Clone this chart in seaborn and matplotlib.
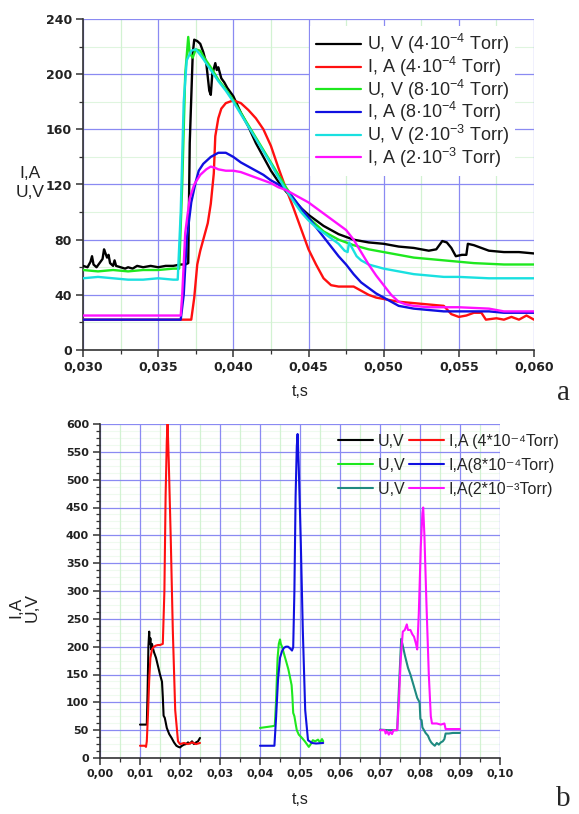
import matplotlib
matplotlib.use("Agg")
import matplotlib.pyplot as plt
import seaborn as sns
from matplotlib.ticker import MultipleLocator, FuncFormatter
from matplotlib.lines import Line2D

# ---------------- Panel a data (t in s) ----------------
a_u4_t = [0.0300, 0.0303, 0.0305, 0.0306, 0.0307, 0.0309, 0.0311, 0.0313, 0.0314, 0.0315, 0.0316, 0.0317,
          0.0318, 0.0320, 0.0321, 0.0322, 0.0325, 0.0328, 0.0330, 0.0333, 0.0336, 0.0340, 0.0345, 0.0350,
          0.0355, 0.0360, 0.0365, 0.0368, 0.0370, 0.0371, 0.0373, 0.0374, 0.0376, 0.0378, 0.0380, 0.0382,
          0.0384, 0.0385, 0.0386, 0.0388, 0.0389, 0.0390, 0.0392, 0.0394, 0.0396, 0.0400, 0.0405, 0.0410,
          0.0415, 0.0420, 0.0425, 0.0430, 0.0435, 0.0440, 0.0445, 0.0450, 0.0455, 0.0460, 0.0465, 0.0470,
          0.0475, 0.0480, 0.0490, 0.0500, 0.0510, 0.0520, 0.0530, 0.0535, 0.0539, 0.0542, 0.0545, 0.0548,
          0.0552, 0.0555, 0.0556, 0.0560, 0.0565, 0.0570, 0.0580, 0.0590, 0.0600]
a_u4_v = [61, 60, 64, 68, 62, 60, 63, 66, 73, 70, 67, 69,
          63, 61, 65, 61, 60, 59, 60, 59, 61, 60, 61, 60,
          61, 61, 62, 62, 63, 150, 215, 225, 224, 222, 216, 208,
          188, 185, 200, 208, 203, 205, 197, 194, 190, 184, 172, 162,
          150, 140, 130, 122, 115, 109, 103, 98, 94, 90, 87, 84,
          82, 80, 78, 77, 75, 74, 72, 73, 79, 78, 74, 68,
          69, 69, 77, 76, 74, 72, 71, 71, 70]

a_i4_t = [0.0300, 0.0350, 0.0368, 0.0372, 0.0374, 0.0376, 0.0378, 0.0380, 0.0383, 0.0385, 0.0387, 0.0388,
          0.0390, 0.0392, 0.0395, 0.0400, 0.0405, 0.0410, 0.0415, 0.0420, 0.0425, 0.0430, 0.0435, 0.0440,
          0.0445, 0.0450, 0.0455, 0.0460, 0.0465, 0.0470, 0.0475, 0.0480, 0.0485, 0.0490, 0.0495, 0.0500,
          0.0505, 0.0510, 0.0520, 0.0530, 0.0540, 0.0545, 0.0550, 0.0555, 0.0560, 0.0565, 0.0568, 0.0575,
          0.0580, 0.0585, 0.0590, 0.0595, 0.0600]
a_i4_v = [22, 22, 22, 22, 38, 62, 72, 80, 92, 106, 128, 155,
          168, 175, 179, 181, 179, 174, 168, 160, 148, 132, 117, 103,
          88, 73, 62, 52, 47, 46, 46, 46, 43, 40, 38, 37,
          36, 35, 34, 33, 32, 26, 24, 25, 27, 27, 22, 23,
          22, 24, 22, 25, 22]

a_u8_t = [0.0300, 0.0310, 0.0320, 0.0330, 0.0340, 0.0350, 0.0360, 0.0364, 0.0366, 0.0368, 0.0370, 0.0371,
          0.0373, 0.0375, 0.0378, 0.0380, 0.0385, 0.0390, 0.0395, 0.0400, 0.0405, 0.0410, 0.0415, 0.0420,
          0.0425, 0.0430, 0.0435, 0.0440, 0.0445, 0.0450, 0.0455, 0.0460, 0.0465, 0.0470, 0.0475, 0.0480,
          0.0490, 0.0500, 0.0510, 0.0520, 0.0530, 0.0540, 0.0550, 0.0560, 0.0580, 0.0600]
a_u8_v = [58, 57, 58, 57, 58, 58, 59, 59, 120, 200, 227, 215,
          212, 218, 217, 213, 205, 196, 189, 181, 172, 163, 154, 145,
          136, 127, 118, 110, 102, 96, 91, 86, 83, 80, 78, 76,
          73, 71, 69, 67, 66, 65, 64, 63, 62, 62]

a_i8_t = [0.0300, 0.0365, 0.0367, 0.0369, 0.0372, 0.0375, 0.0377, 0.0380, 0.0385, 0.0390, 0.0395, 0.0400,
          0.0405, 0.0410, 0.0415, 0.0420, 0.0425, 0.0430, 0.0435, 0.0440, 0.0445, 0.0450, 0.0455, 0.0460,
          0.0465, 0.0470, 0.0475, 0.0480, 0.0485, 0.0490, 0.0495, 0.0500, 0.0505, 0.0510, 0.0515, 0.0520,
          0.0530, 0.0540, 0.0550, 0.0560, 0.0570, 0.0580, 0.0590, 0.0600]
a_i8_v = [22, 22, 40, 80, 107, 122, 130, 135, 140, 143, 143, 140,
          136, 133, 130, 127, 123, 120, 116, 110, 103, 96, 89, 82,
          75, 68, 62, 55, 49, 45, 41, 38, 35, 32, 31, 30,
          29, 28, 28, 28, 28, 27, 27, 27]

a_u2_t = [0.0300, 0.0310, 0.0320, 0.0330, 0.0340, 0.0350, 0.0360, 0.0363, 0.0365, 0.0367, 0.0369, 0.0372,
          0.0375, 0.0378, 0.0380, 0.0385, 0.0390, 0.0395, 0.0400, 0.0405, 0.0410, 0.0415, 0.0420, 0.0425,
          0.0430, 0.0435, 0.0440, 0.0445, 0.0450, 0.0455, 0.0460, 0.0465, 0.0470, 0.0474, 0.0476, 0.0477,
          0.0479, 0.0482, 0.0485, 0.0490, 0.0500, 0.0510, 0.0520, 0.0530, 0.0540, 0.0550, 0.0570, 0.0600]
a_u2_v = [52, 53, 52, 51, 51, 52, 51, 51, 100, 180, 210, 217,
          218, 214, 211, 203, 195, 188, 180, 171, 162, 153, 144, 135,
          125, 116, 108, 100, 94, 89, 85, 81, 77, 72, 71, 78,
          74, 68, 65, 62, 59, 57, 55, 54, 53, 53, 52, 52]

a_i2_t = [0.0300, 0.0365, 0.0366, 0.0368, 0.0371, 0.0374, 0.0378, 0.0382, 0.0385, 0.0388, 0.0390, 0.0395,
          0.0400, 0.0405, 0.0410, 0.0415, 0.0420, 0.0425, 0.0430, 0.0435, 0.0440, 0.0445, 0.0450, 0.0455,
          0.0460, 0.0465, 0.0470, 0.0475, 0.0480, 0.0485, 0.0490, 0.0495, 0.0500, 0.0505, 0.0510, 0.0515,
          0.0520, 0.0530, 0.0550, 0.0570, 0.0580, 0.0600]
a_i2_v = [25, 25, 40, 85, 110, 120, 127, 131, 133, 132, 131, 130,
          130, 129, 127, 125, 123, 121, 118, 116, 113, 110, 107, 103,
          99, 95, 91, 87, 80, 71, 62, 54, 47, 40, 35, 33,
          32, 31, 31, 30, 28, 28]

a_labels = ["U, V (4·$10^{-4}$ Torr)", "I, A (4·$10^{-4}$ Torr)", "U, V (8·$10^{-4}$ Torr)",
            "I, A (8·$10^{-4}$ Torr)", "U, V (2·$10^{-3}$ Torr)", "I, A (2·$10^{-3}$ Torr)"]

# ---------------- Panel b data ----------------
b_u4_t = [0.0100, 0.0117, 0.0119, 0.0121, 0.0123, 0.0124, 0.0126, 0.0128, 0.0130, 0.0132, 0.0135, 0.0140,
          0.0145, 0.0150, 0.0155, 0.0157, 0.0159, 0.0162, 0.0167, 0.0173, 0.0179, 0.0185, 0.0191, 0.0196,
          0.0200, 0.0205, 0.0210, 0.0215, 0.0220, 0.0225, 0.0230, 0.0235, 0.0240, 0.0245, 0.0250]
b_u4_v = [60, 60, 120, 200, 227, 205, 215, 195, 205, 198, 190, 180,
          165, 150, 137, 110, 76, 72, 54, 43, 36, 28, 22, 20,
          19, 22, 24, 25, 28, 26, 30, 25, 28, 30, 36]

b_i4_t = [0.0100, 0.0112, 0.0115, 0.0117, 0.0120, 0.0123, 0.0126, 0.0130, 0.0135, 0.0140, 0.0145, 0.0150,
          0.0157, 0.0161, 0.0164, 0.0167, 0.0169, 0.0172, 0.0177, 0.0182, 0.0188, 0.0195, 0.0200, 0.0210,
          0.0220, 0.0230, 0.0240, 0.0250]
b_i4_v = [22, 22, 20, 30, 80, 140, 180, 195, 200, 202, 203, 203,
          205, 300, 470, 570, 600, 530, 390, 230, 86, 30, 25, 27,
          25, 28, 25, 27]

b_u8_t = [0.0400, 0.0410, 0.0420, 0.0430, 0.0437, 0.0440, 0.0444, 0.0447, 0.0450, 0.0452, 0.0455, 0.0458,
          0.0462, 0.0466, 0.0471, 0.0475, 0.0479, 0.0481, 0.0483, 0.0486, 0.0489, 0.0492, 0.0497, 0.0505,
          0.0512, 0.0518, 0.0522, 0.0527, 0.0532, 0.0538, 0.0545, 0.0550, 0.0555, 0.0558]
b_u8_v = [54, 55, 56, 57, 58, 100, 180, 205, 213, 205, 200, 192,
          182, 172, 159, 145, 131, 110, 81, 75, 62, 50, 42, 36,
          30, 24, 20, 25, 32, 30, 33, 28, 34, 30]

b_i8_t = [0.0400, 0.0436, 0.0440, 0.0445, 0.0450, 0.0455, 0.0460, 0.0465, 0.0470, 0.0475, 0.0480, 0.0483,
          0.0486, 0.0489, 0.0492, 0.0494, 0.0497, 0.0502, 0.0507, 0.0513, 0.0520, 0.0530, 0.0540, 0.0558]
b_i8_v = [22, 22, 70, 140, 180, 192, 198, 200, 200, 197, 193, 199,
          300, 470, 560, 582, 520, 387, 230, 86, 32, 27, 26, 27]

b_u2_t = [0.0700, 0.0720, 0.0743, 0.0747, 0.0753, 0.0756, 0.0762, 0.0770, 0.0776, 0.0785, 0.0793, 0.0799,
          0.0801, 0.0804, 0.0806, 0.0810, 0.0814, 0.0820, 0.0824, 0.0828, 0.0832, 0.0837, 0.0842, 0.0847,
          0.0852, 0.0857, 0.0861, 0.0864, 0.0872, 0.0882, 0.0900]
b_u2_v = [51, 50, 50, 120, 214, 205, 185, 162, 150, 128, 108, 100,
          70, 68, 55, 50, 45, 40, 33, 28, 25, 22, 27, 24,
          28, 30, 34, 44, 44, 45, 45]

b_i2_t = [0.0700, 0.0712, 0.0714, 0.0718, 0.0722, 0.0726, 0.0730, 0.0734, 0.0743, 0.0747, 0.0752, 0.0757,
          0.0762, 0.0767, 0.0770, 0.0776, 0.0781, 0.0785, 0.0790, 0.0793, 0.0797, 0.0802, 0.0806, 0.0808,
          0.0811, 0.0816, 0.0822, 0.0827, 0.0830, 0.0842, 0.0852, 0.0861, 0.0864, 0.0882, 0.0900]
b_i2_v = [50, 50, 44, 48, 42, 47, 43, 50, 50, 100, 180, 227,
          230, 240, 230, 230, 222, 218, 205, 195, 260, 380, 440, 450,
          400, 280, 150, 75, 62, 62, 60, 62, 52, 52, 52]

b_labels_u = ["U,V", "U,V ", "U,V "]
b_labels_i = ["I,A (4*10\u207b\u2074Torr)", "I,A(8*10\u207b\u2074Torr)", "I,A(2*10\u207b\u00b3Torr)"]

# ---------------- Style ----------------
sns.set_style("ticks")
plt.rcParams['font.family'] = ['Liberation Sans', 'DejaVu Sans']
plt.rcParams['mathtext.fontset'] = 'custom'
plt.rcParams['mathtext.rm'] = 'Liberation Sans'
plt.rcParams['mathtext.it'] = 'Liberation Sans:italic'
plt.rcParams['mathtext.bf'] = 'Liberation Sans:bold'

W, H = 579, 814
fig = plt.figure(figsize=(W / 100, H / 100), dpi=100)


def fx(px):
    return px / W


def fy(py):
    return 1 - py / H


ax_a = fig.add_axes([fx(83), fy(350), (534 - 83) / W, (350 - 19) / H])
ax_b = fig.add_axes([fx(100), fy(758), (500 - 100) / W, (758 - 424) / H])

C_BLACK = "#000000"
C_RED = "#ff1010"
C_GREEN = "#1ee81e"
C_BLUE = "#1010e0"
C_CYAN = "#19e0e0"
C_MAG = "#ff10ff"
C_TEAL = "#1f8a80"

major_grid = "#8a8af2"
minor_grid = "#d2f2d2"


def style_axes(ax, xmaj, xmin, ymaj, ymin, xdec, tick_fs, hminor_alpha):
    ax.xaxis.set_major_locator(MultipleLocator(xmaj))
    ax.xaxis.set_minor_locator(MultipleLocator(xmin))
    ax.yaxis.set_major_locator(MultipleLocator(ymaj))
    ax.yaxis.set_minor_locator(MultipleLocator(ymin))
    ax.xaxis.set_major_formatter(FuncFormatter(lambda v, p: f"{v:.{xdec}f}".replace(".", ",")))
    ax.yaxis.set_major_formatter(FuncFormatter(lambda v, p: f"{v:.0f}"))
    ax.grid(which="major", color=major_grid, lw=0.9)
    ax.set_axisbelow(True)
    # minor grid drawn beneath the major grid
    xlo, xhi = ax.get_xlim()
    ylo, yhi = ax.get_ylim()
    xmins = [v for v in ax.xaxis.get_minorticklocs() if xlo < v < xhi]
    ymins = [v for v in ax.yaxis.get_minorticklocs() if ylo < v < yhi]
    ax.vlines(xmins, 0, 1, transform=ax.get_xaxis_transform(), colors=minor_grid, lw=0.9, zorder=0.2)
    ax.hlines(ymins, 0, 1, transform=ax.get_yaxis_transform(), colors=minor_grid, lw=0.8,
              alpha=hminor_alpha, zorder=0.2)
    for s in ["top", "right"]:
        ax.spines[s].set_visible(False)
    for s in ["left", "bottom"]:
        ax.spines[s].set_color("#333333")
        ax.spines[s].set_linewidth(1.2)
    ax.tick_params(which="major", direction="out", length=5, width=1.1, color="#333333",
                   labelsize=tick_fs, labelcolor="#222222", pad=3)
    ax.tick_params(which="minor", direction="out", length=3, width=0.9, color="#333333")
    for lab in ax.get_xticklabels() + ax.get_yticklabels():
        lab.set_family("DejaVu Sans")
        lab.set_fontweight("bold")
    ax.set_xlabel("")
    ax.set_ylabel("")


# ---------- panel a ----------
a_series = [(a_u4_t, a_u4_v, C_BLACK), (a_i4_t, a_i4_v, C_RED), (a_u8_t, a_u8_v, C_GREEN),
            (a_i8_t, a_i8_v, C_BLUE), (a_u2_t, a_u2_v, C_CYAN), (a_i2_t, a_i2_v, C_MAG)]
for t, v, c in a_series:
    sns.lineplot(x=t, y=v, ax=ax_a, color=c, linewidth=1.7, sort=False, estimator=None, zorder=3)
ax_a.set_xlim(0.030, 0.060)
ax_a.set_ylim(0, 240)
style_axes(ax_a, 0.005, 0.0025, 40, 20, 3, 9, 0.7)
fig.canvas.draw()
ax_a.get_ygridlines()[-1].set_visible(False)
ax_a.get_xgridlines()[-1].set_visible(False)

handles_a = [Line2D([], [], color=c, lw=1.6) for _, _, c in a_series]
leg_a = ax_a.legend(handles_a, a_labels, loc="upper left",
                    bbox_to_anchor=(fx(310), fy(26)), bbox_transform=fig.transFigure,
                    frameon=True, facecolor="white", edgecolor="none", framealpha=1, fancybox=False,
                    fontsize=13, handlelength=2.5, handletextpad=0.3, labelspacing=-0.08,
                    borderpad=0.35, borderaxespad=0)
leg_a.set_zorder(5)

# ---------- panel b ----------
b_series_u = [(b_u4_t, b_u4_v, C_BLACK), (b_u8_t, b_u8_v, C_GREEN), (b_u2_t, b_u2_v, C_TEAL)]
b_series_i = [(b_i4_t, b_i4_v, C_RED), (b_i8_t, b_i8_v, C_BLUE), (b_i2_t, b_i2_v, C_MAG)]
for (tu, vu, cu), (ti, vi, ci) in zip(b_series_u, b_series_i):
    sns.lineplot(x=tu, y=vu, ax=ax_b, color=cu, linewidth=1.5, sort=False, estimator=None, zorder=3)
    sns.lineplot(x=ti, y=vi, ax=ax_b, color=ci, linewidth=1.5, sort=False, estimator=None, zorder=3)
ax_b.set_xlim(0.0, 0.10)
ax_b.set_ylim(0, 600)
style_axes(ax_b, 0.01, 0.005, 50, 12.5, 2, 8, 0.35)
fig.canvas.draw()
ax_b.get_ygridlines()[-1].set_visible(False)
ax_b.get_xgridlines()[-1].set_visible(False)

handles_b = [Line2D([], [], color=c, lw=1.5) for _, _, c in b_series_u] + \
            [Line2D([], [], color=c, lw=1.5) for _, _, c in b_series_i]
labels_b = b_labels_u + b_labels_i
leg_b = ax_b.legend(handles_b, labels_b, ncol=2, loc="upper left",
                    bbox_to_anchor=(fx(338), fy(434)), bbox_transform=fig.transFigure,
                    frameon=False, fontsize=11.5, handlelength=2.2, handletextpad=0.3,
                    labelspacing=0.55, columnspacing=0.0, borderpad=0, borderaxespad=0)

# ---------- texts ----------
fig.text(fx(30), fy(183), "I,A\nU,V", ha="center", va="center", fontsize=12.5, linespacing=1.3,
         color="#222222")
fig.text(fx(300), fy(392), "t,s", ha="center", va="center", fontsize=11.5, color="#222222")
fig.text(fx(563), fy(393), "a", ha="center", va="center", fontsize=21, family="Liberation Serif")

fig.text(fx(24), fy(607), "I,A\nU,V", ha="center", va="center", fontsize=12.5, linespacing=1.1,
         rotation=90, color="#222222")
fig.text(fx(300), fy(800), "t,s", ha="center", va="center", fontsize=11.5, color="#222222")
fig.text(fx(563), fy(799), "b", ha="center", va="center", fontsize=21, family="Liberation Serif")

fig.savefig("out.png", dpi=100)
